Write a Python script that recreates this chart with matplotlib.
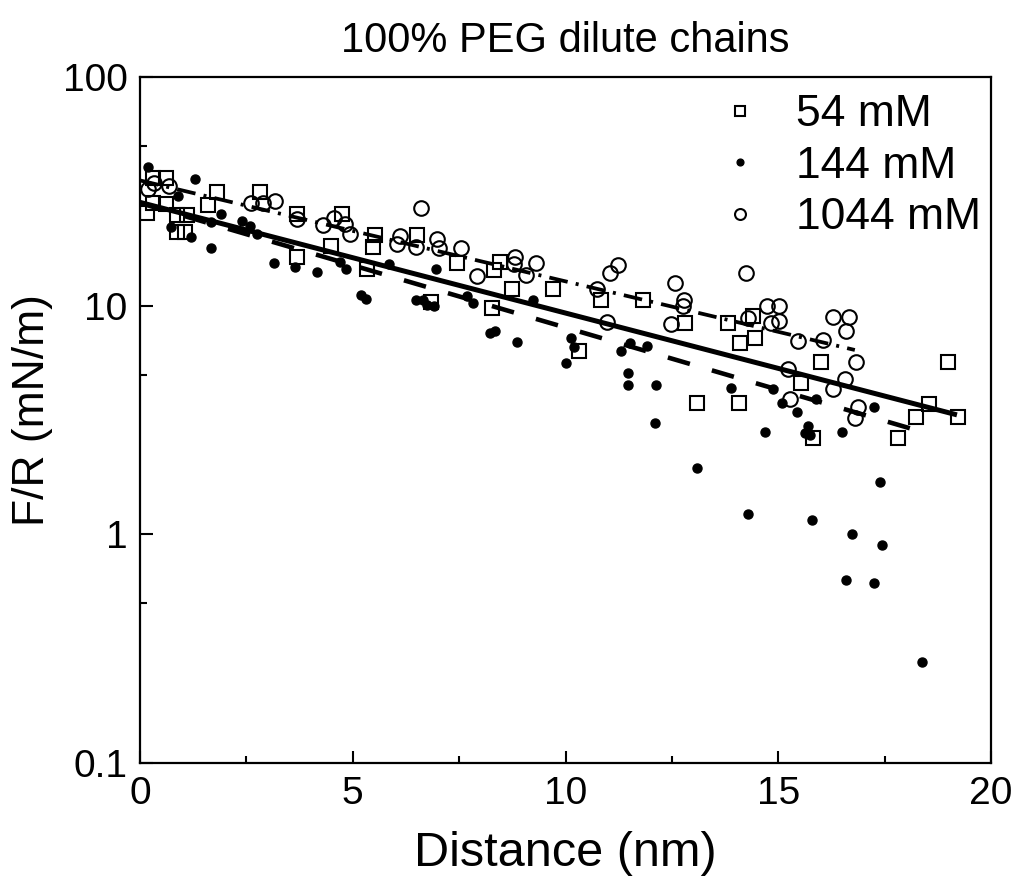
import matplotlib
matplotlib.use('Agg')
import matplotlib.pyplot as plt
from matplotlib.ticker import LogLocator, FixedLocator, FuncFormatter

plt.rcParams['font.family'] = ['Liberation Sans', 'DejaVu Sans']

# 54 mM (open squares)
x54 = [0.31, 0.6, 0.16, 0.31, 0.6, 0.88, 1.1, 0.88, 1.06, 1.82, 1.59, 2.82, 3.7, 3.7,
       4.48, 4.74, 5.52, 5.48, 6.52, 5.34, 6.83, 7.46, 8.46, 8.32, 8.74, 8.27, 9.71,
       10.83, 11.83, 10.32, 12.81, 13.83, 14.1, 14.41, 14.45, 13.1, 14.08, 16.0, 15.53,
       19.0, 18.55, 18.24, 19.23, 17.82, 15.81]
y54 = [36, 36, 25.5, 28.2, 27.7, 24.9, 24.9, 21.1, 21.1, 31.5, 27.5, 31.5, 25.2, 16.3,
       18.2, 25.2, 20.4, 18.1, 20.4, 14.4, 10.4, 15.4, 15.6, 14.3, 11.8, 9.75, 11.8,
       10.6, 10.6, 6.35, 8.4, 8.4, 6.84, 9.0, 7.2, 3.77, 3.77, 5.69, 4.6,
       5.69, 3.72, 3.27, 3.25, 2.63, 2.63]

# 144 mM (filled dots)
x144 = [0.18, 1.29, 0.9, 0.74, 1.21, 1.67, 1.9, 1.68, 2.4, 2.59, 2.75, 3.16, 3.64, 4.17,
        4.83, 4.7, 5.86, 6.95, 5.19, 5.31, 6.49, 6.64, 6.74, 6.92, 7.68, 7.82, 9.24,
        8.23, 8.34, 8.87, 10.13, 10.19, 10.01, 11.52, 11.3, 11.91, 11.48, 11.48, 12.13,
        12.1, 13.88, 14.88, 15.08, 15.45, 15.89, 17.25, 14.69, 15.71, 15.63, 15.75,
        16.49, 17.39, 14.3, 15.8, 16.73, 17.43, 16.59, 17.26, 18.37, 13.09]
y144 = [40.5, 35.8, 30.3, 22, 20, 17.9, 25.2, 23.3, 23.4, 22.4, 20.5, 15.3, 14.7, 14.1,
        14.5, 15.6, 15.2, 14.4, 11.1, 10.7, 10.6, 10.6, 10.1, 10.0, 11.0, 10.3, 10.6,
        7.63, 7.78, 6.96, 7.2, 6.58, 5.6, 6.88, 6.35, 6.67, 5.1, 4.5, 4.5,
        3.06, 4.35, 4.31, 3.74, 3.44, 3.9, 3.6, 2.79, 2.98, 2.77, 2.72,
        2.81, 1.70, 1.23, 1.15, 1.0, 0.90, 0.63, 0.615, 0.277, 1.95]

# 1044 mM (open circles)
x1044 = [0.18, 0.34, 0.67, 2.62, 2.9, 3.17, 3.7, 4.31, 4.56, 4.82, 4.94, 6.6, 6.11, 6.05,
         6.49, 6.97, 7.03, 7.54, 7.91, 8.81, 8.79, 9.06, 9.31, 11.24, 11.05, 10.75,
         10.97, 12.57, 12.79, 12.77, 12.47, 14.24, 14.3, 14.74, 15.02, 14.82, 15.02,
         16.28, 16.67, 16.59, 15.47, 16.04, 16.83, 15.24, 16.57, 16.29, 15.28, 16.88, 16.8]
y1044 = [32.3, 34.3, 33.4, 28, 28, 28.7, 23.9, 22.5, 24.1, 22.8, 20.6, 26.7, 20.2, 18.6,
         18.1, 19.6, 17.8, 17.8, 13.5, 16.3, 15.2, 13.6, 15.4, 15, 13.9, 11.8,
         8.5, 12.6, 10.6, 10.0, 8.3, 13.9, 8.8, 10, 10, 8.4, 8.6,
         8.96, 8.96, 7.78, 7.03, 7.06, 5.69, 5.27, 4.77, 4.31, 3.9, 3.62, 3.22]

# exponential fits (end points, straight on the log axis)
fit54_x, fit54_y = [0, 19.2], [28.3, 3.33]
fit144_x, fit144_y = [0, 18.4], [28.1, 2.8]
fit1044_x, fit1044_y = [0, 16.8], [35.3, 6.4]

fig = plt.figure(figsize=(10.16, 8.8), dpi=100)
ax = fig.add_axes([140 / 1016, 117 / 880, 851 / 1016, 686 / 880])

ax.plot(fit54_x, fit54_y, color='black', lw=3.6, solid_capstyle='butt')
ax.plot(fit144_x, fit144_y, color='black', lw=3.3, dashes=(5, 5))
ax.plot(fit1044_x, fit1044_y, color='black', lw=2.7, dashes=(5, 2.2, 0.8, 2.2))

ax.plot(x54, y54, 's', ms=9.5, mfc='none', mec='black', mew=1.5, label='54 mM')
ax.plot(x144, y144, 'o', ms=6.5, mfc='black', mec='black', label='144 mM')
ax.plot(x1044, y1044, 'o', ms=10.5, mfc='none', mec='black', mew=1.5, label='1044 mM')

ax.set_yscale('log')
ax.set_xlim(0, 20)
ax.set_ylim(0.1, 100)
ax.xaxis.set_major_locator(FixedLocator([0, 5, 10, 15, 20]))
ax.xaxis.set_minor_locator(FixedLocator([2.5, 7.5, 12.5, 17.5]))
ax.yaxis.set_major_locator(LogLocator(base=10, numticks=10))
ax.yaxis.set_minor_locator(LogLocator(base=10, subs=[5], numticks=10))
ax.yaxis.set_major_formatter(FuncFormatter(lambda v, p: '%g' % v))
ax.yaxis.set_minor_formatter(FuncFormatter(lambda v, p: ''))

ax.tick_params(which='both', direction='in', top=False, right=False,
               width=1.5, labelsize=28, pad=9)
ax.tick_params(which='major', length=9)
ax.tick_params(which='minor', length=5)
for s in ax.spines.values():
    s.set_linewidth(1.6)

ax.set_xlabel('Distance (nm)', fontsize=35, labelpad=14)
ax.set_ylabel('F/R (mN/m)', fontsize=32)
ax.yaxis.set_label_coords(-0.102, 0.515)
ax.set_title('100% PEG dilute chains', fontsize=30, pad=18)

leg = ax.legend(loc='upper left', bbox_to_anchor=(0.679, 0.975), frameon=False,
                fontsize=32, markerscale=0.75, handlelength=1.0, handletextpad=0.75,
                labelspacing=0.24, borderpad=0, borderaxespad=0)

fig.savefig('out.png', dpi=100)
